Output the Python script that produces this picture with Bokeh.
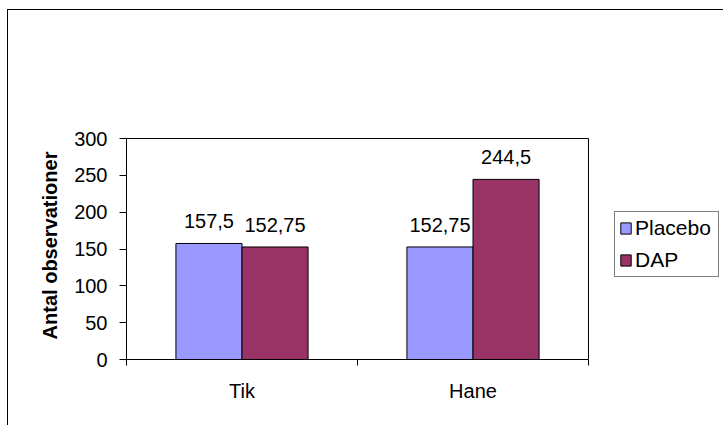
from bokeh.plotting import figure
from bokeh.models import (ColumnDataSource, FixedTicker, Range1d, Legend,
                          LegendItem, InlineStyleSheet)
from bokeh.core.properties import value
from bokeh.embed import file_html
from bokeh.resources import INLINE

# --- data -----------------------------------------------------------------
categories = ["Tik", "Hane"]
series_names = ["Placebo", "DAP"]
placebo = [157.5, 152.75]
dap = [152.75, 244.5]
y_ticks = [0, 50, 100, 150, 200, 250, 300]
y_max = 300

FONT = "Liberation Sans"
colors = ["#9999FF", "#993366"]
bar_w = 0.286  # fraction of a category slot taken by one bar

# page geometry (pixels)
W, H = 723, 425
LEFT, BOTTOM, TOP = 126, 66, 131
BOX_W = 462          # width of the boxed plotting area
n = len(categories)


def fmt(v):
    # Swedish decimal comma
    return ("%g" % v).replace(".", ",")


centers = [i + 0.5 for i in range(n)]

# outer chart border, drawn on the figure's host element
frame_css = InlineStyleSheet(css="""
:host { position: relative; }
:host::after {
  content: "";
  position: absolute;
  left: 7px; top: 9px; right: 0px; bottom: 0px;
  border-left: 1px solid #000;
  border-top: 1px solid #000;
  pointer-events: none;
}
""")

# the frame runs to the right edge so the legend can sit inside it;
# the boxed plotting area covers x in [0, n]
x_end = n * (W - LEFT) / BOX_W
frame_h = H - TOP - BOTTOM
y_end = y_max * frame_h / 221.0

p = figure(width=W, height=H, output_backend="svg", toolbar_location=None,
           x_range=Range1d(0, x_end), y_range=Range1d(0, y_end),
           min_border_left=LEFT, min_border_right=0,
           min_border_top=TOP, min_border_bottom=BOTTOM,
           stylesheets=[frame_css])
p.background_fill_color = "white"
p.border_fill_color = "white"
p.outline_line_color = None
p.xgrid.visible = False
p.ygrid.visible = False

# top and right edges of the plotting box
p.line(x=[0, n, n], y=[y_max, y_max, 0], line_color="black", line_width=1)

renderers = []
for k, (name, vals, col) in enumerate(zip(series_names, [placebo, dap], colors)):
    off = (k - 0.5) * bar_w
    xs = [c + off for c in centers]
    src = ColumnDataSource(dict(x=xs, top=vals, label=[fmt(v) for v in vals]))
    r = p.vbar(x="x", top="top", width=bar_w, bottom=0, source=src,
               fill_color=col, line_color="black", line_width=1)
    renderers.append(r)
    p.text(x="x", y="top", text="label", source=src,
           text_font=value(FONT), text_font_size="20px", text_color="black",
           text_align="center", text_baseline="alphabetic", y_offset=-22)

# --- axes -------------------------------------------------------------------
xa = p.xaxis[0]
xa.bounds = (0, n)
xa.ticker = FixedTicker(ticks=centers, minor_ticks=list(range(n + 1)))
xa.major_label_overrides = {c: cat for c, cat in zip(centers, categories)}
xa.major_tick_line_color = None
xa.minor_tick_line_color = "black"
xa.minor_tick_out = 6
xa.minor_tick_in = 0
xa.major_label_standoff = 14
xa.major_label_text_font = FONT
xa.major_label_text_font_size = "20px"
xa.major_label_text_color = "black"
xa.axis_line_color = "black"

ya = p.yaxis[0]
ya.bounds = (0, y_max)
ya.ticker = FixedTicker(ticks=y_ticks)
ya.minor_tick_line_color = None
ya.major_tick_out = 7
ya.major_tick_in = 0
ya.major_tick_line_color = "black"
ya.major_label_standoff = 12
ya.major_label_text_font = FONT
ya.major_label_text_font_size = "20px"
ya.major_label_text_color = "black"
ya.axis_line_color = "black"
ya.axis_label = "Antal observationer"
ya.axis_label_text_font = FONT
ya.axis_label_text_font_style = "bold"
ya.axis_label_text_font_size = "20px"
ya.axis_label_text_color = "black"
ya.axis_label_standoff = 10

# --- legend -----------------------------------------------------------------
legend = Legend(items=[LegendItem(label=nm, renderers=[r])
                       for nm, r in zip(series_names, renderers)],
                location=(488, 82), orientation="vertical")
legend.border_line_color = "black"
legend.border_line_width = 1
legend.background_fill_color = "white"
legend.background_fill_alpha = 1
legend.padding = 4
legend.margin = 0
legend.spacing = 8
legend.glyph_width = 13
legend.glyph_height = 14
legend.label_height = 21
legend.label_width = 79
legend.label_standoff = 3
legend.label_text_font = FONT
legend.label_text_font_size = "21px"
legend.label_text_color = "black"
p.add_layout(legend)

open("out.html", "w").write(file_html(p, INLINE))
